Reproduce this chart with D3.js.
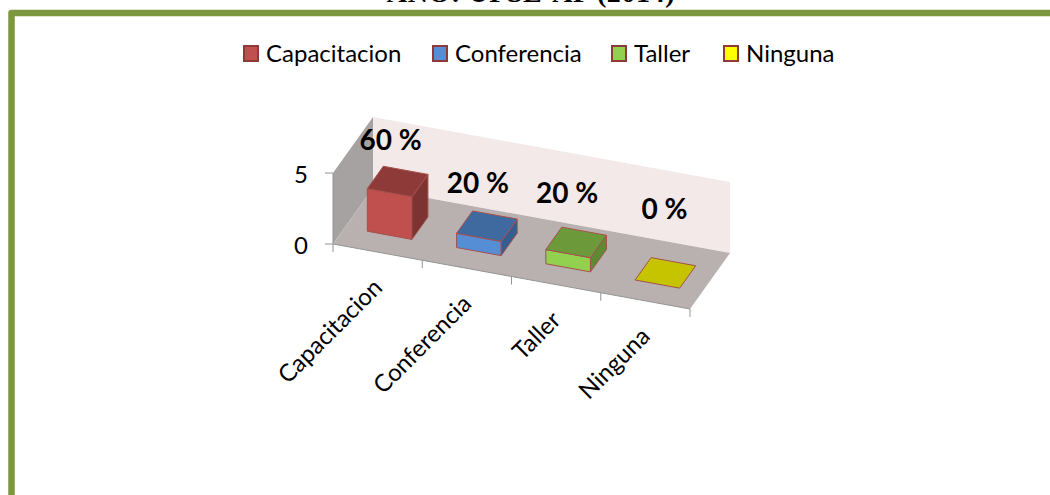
<!DOCTYPE html>
<html>
<head>
<meta charset="utf-8">
<script src="https://cdn.jsdelivr.net/npm/d3@7"></script>
<style>
html, body { margin: 0; padding: 0; background: #fff; overflow: hidden; }
text { font-family: Lato, "Open Sans", sans-serif; fill: #000; }
</style>
</head>
<body>
<div id="chart"></div>
<script>
var categories = ["Capacitacion", "Conferencia", "Taller", "Ninguna"];
var values = [3, 1, 1, 0];
var percentLabels = ["60 %", "20 %", "20 %", "0 %"];
var valueTicks = [0, 5];

var frontColors = ["#c0504d", "#558ed5", "#92d050", "#ffff00"];
var topColors = ["#8e3a38", "#3f6aa0", "#6c9a3b", "#c6c400"];
var sideColors = ["#7d3331", "#355d8e", "#5f8a34", "#b0ae00"];

var width = 1050,
    height = 495;

var svg = d3.select("#chart")
    .append("svg")
    .attr("width", width)
    .attr("height", height);

// page title, cut off by the top of the page
svg.append("text")
    .attr("x", 531)
    .attr("y", 2)
    .attr("text-anchor", "middle")
    .style("font-family", "'Liberation Serif', serif")
    .style("font-size", "28px")
    .style("font-weight", "bold")
    .style("letter-spacing", "0.6px")
    .text("AÑO: UPSE-AP (2014)");

// green frame, open on the right and bottom
svg.append("path")
    .attr("d", "M11.5,495V13H1050")
    .attr("fill", "none")
    .attr("stroke", "#7c973e")
    .attr("stroke-width", 6.5)
    .attr("stroke-linejoin", "round");

// the axes of the fake 3d box
var depthX = d3.scaleLinear().domain([0, 1]).range([0, 40]);
var depthY = d3.scaleLinear().domain([0, 1]).range([0, -56]);
var valueY = d3.scaleLinear().domain([0, 5]).range([0, -71]);
var alongX = d3.scaleLinear().domain([0, 1]).range([333, 690]);
var alongY = d3.scaleLinear().domain([0, 1]).range([244, 309]);

function pt(u, d, v) {
    return [alongX(u) + depthX(d), alongY(u) + depthY(d) + valueY(v)];
}
function poly(pts) {
    return "M" + pts.map(function(p) { return p[0] + "," + p[1]; }).join("L") + "Z";
}

// walls and floor
svg.append("path").attr("d", poly([pt(0, 0, 0), pt(0, 1, 0), pt(0, 1, 5), pt(0, 0, 5)])).attr("fill", "#a6a2a2");
svg.append("path").attr("d", poly([pt(0, 1, 0), pt(1, 1, 0), pt(1, 1, 5), pt(0, 1, 5)])).attr("fill", "#f4e9e9");
svg.append("path").attr("d", poly([pt(0, 0, 0), pt(1, 0, 0), pt(1, 1, 0), pt(0, 1, 0)])).attr("fill", "#b9b0b0");

// axis lines and ticks
svg.append("path")
    .attr("d", "M" + pt(0, 0, 5) + "L" + pt(0, 0, 0) + "L" + pt(1, 0, 0))
    .attr("fill", "none")
    .attr("stroke", "#949494")
    .attr("stroke-width", 1);

valueTicks.forEach(function(t) {
    var p = pt(0, 0, t);
    svg.append("line")
        .attr("x1", p[0] - 8).attr("x2", p[0])
        .attr("y1", p[1]).attr("y2", p[1])
        .attr("stroke", "#949494");
    svg.append("text")
        .attr("x", p[0] - 32)
        .attr("y", p[1] + 10)
        .attr("text-anchor", "middle")
        .style("font-size", "24px")
        .text(t);
});

d3.range(categories.length + 1).forEach(function(i) {
    var p = pt(i / categories.length, 0, 0);
    svg.append("line")
        .attr("x1", p[0]).attr("x2", p[0])
        .attr("y1", p[1]).attr("y2", p[1] + 8)
        .attr("stroke", "#949494");
});

// bars
var u = d3.scaleBand().domain(categories).range([0, 1]).paddingInner(0.5).paddingOuter(0.25);
categories.forEach(function(c, i) {
    var u0 = u(c), u1 = u0 + u.bandwidth(), d0 = 0.3, d1 = 0.7, v = values[i];
    var g = svg.append("g").attr("stroke", "#a5514e").attr("stroke-width", 1).attr("stroke-linejoin", "round");
    if (v > 0) {
        g.append("path").attr("d", poly([pt(u0, d0, 0), pt(u1, d0, 0), pt(u1, d0, v), pt(u0, d0, v)])).attr("fill", frontColors[i]);
        g.append("path").attr("d", poly([pt(u1, d0, 0), pt(u1, d1, 0), pt(u1, d1, v), pt(u1, d0, v)])).attr("fill", sideColors[i]);
    }
    g.append("path").attr("d", poly([pt(u0, d0, v), pt(u1, d0, v), pt(u1, d1, v), pt(u0, d1, v)])).attr("fill", topColors[i]);
});

// percent labels above each bar
var labelDx = [-7, -9, -9, -1];
categories.forEach(function(c, i) {
    var p = pt(u(c) + u.bandwidth() / 2, 0.5, values[i]);
    svg.append("text")
        .attr("x", p[0] + labelDx[i])
        .attr("y", [150, 193, 203, 219][i])
        .attr("text-anchor", "middle")
        .style("font-size", "28px")
        .style("font-weight", "bold")
        .text(percentLabels[i]);
});

// rotated category labels
categories.forEach(function(c, i) {
    var p = pt((i + 0.5) / categories.length, 0, 0);
    svg.append("text")
        .attr("transform", "translate(" + (p[0] + 6) + "," + (p[1] + 37) + ") rotate(-45)")
        .attr("text-anchor", "end")
        .style("font-size", "24px")
        .text(c);
});

// legend
var legendX = [243, 432, 611, 723];
categories.forEach(function(c, i) {
    svg.append("rect")
        .attr("x", legendX[i] + 1)
        .attr("y", 46)
        .attr("width", 14)
        .attr("height", 15)
        .attr("fill", frontColors[i])
        .attr("stroke", "#8e3a38")
        .attr("stroke-width", 2);
    svg.append("text")
        .attr("x", legendX[i] + 23)
        .attr("y", 62)
        .style("font-size", "24px")
        .text(c);
});
</script>
</body>
</html>
